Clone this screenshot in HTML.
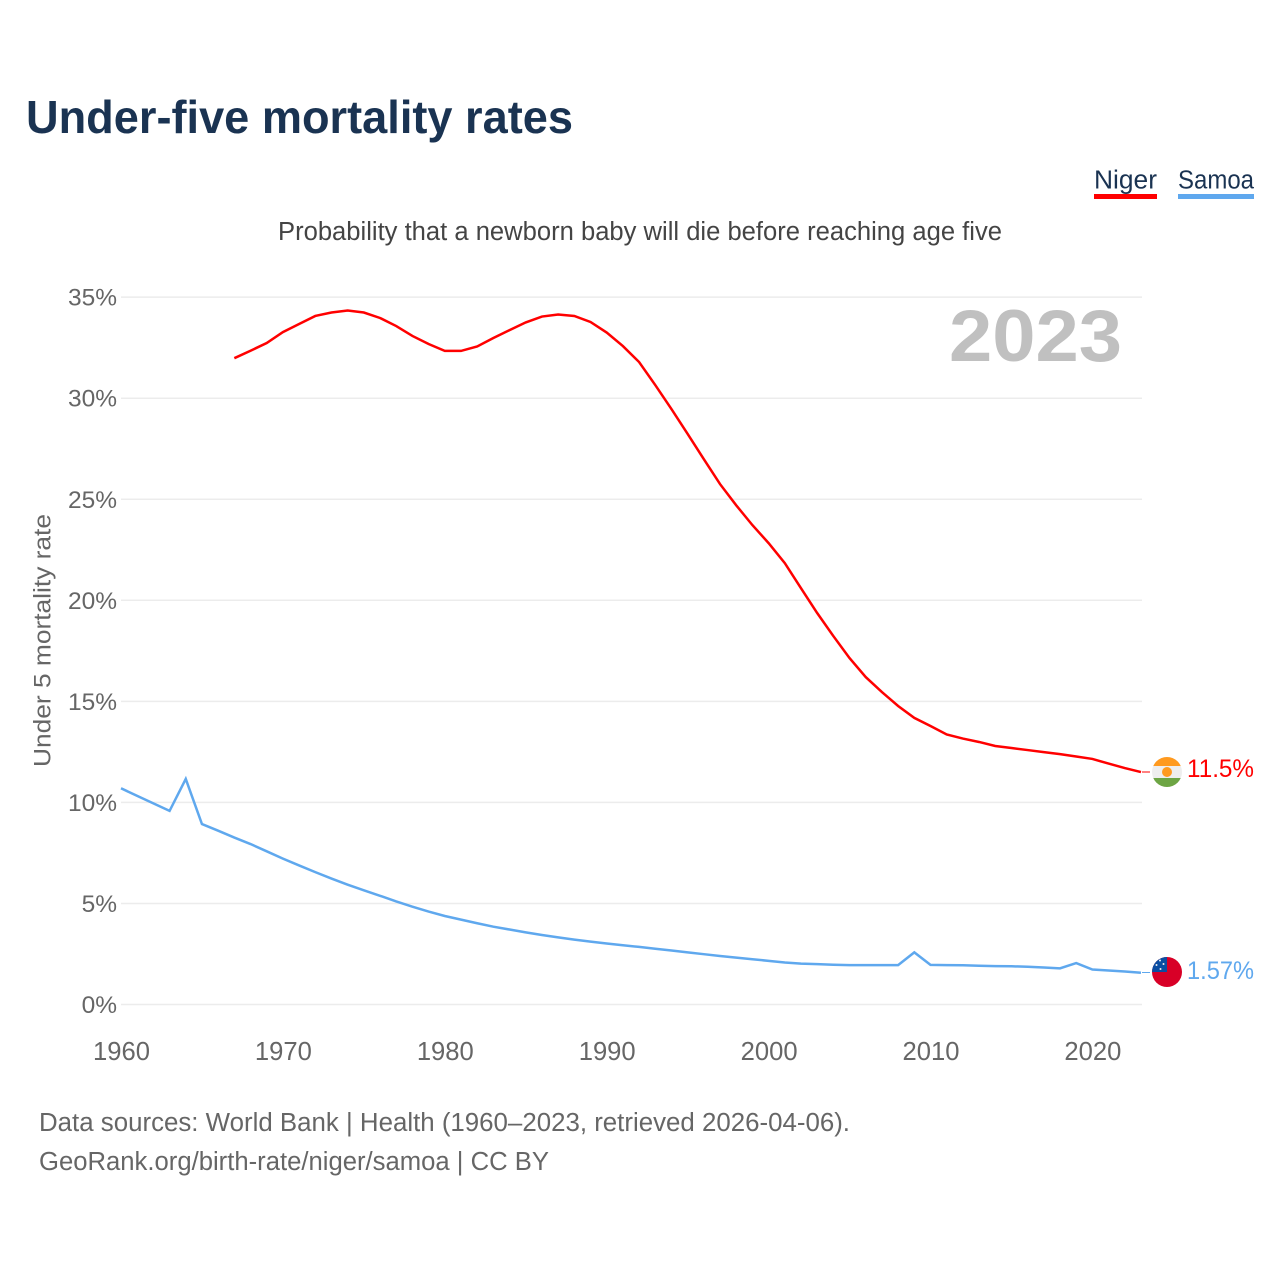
<!DOCTYPE html>
<html lang="en">
<head>
<meta charset="utf-8">
<title>Under-five mortality rates</title>
<style>
html,body{margin:0;padding:0;background:#fff}
svg{display:block}
text{font-family:"Liberation Sans",sans-serif}
</style>
</head>
<body>
<svg id="chart" width="1280" height="1280" viewBox="0 0 1280 1280" xmlns="http://www.w3.org/2000/svg">
<defs>
<clipPath id="flag-clip-niger"><circle cx="1167" cy="772" r="15"/></clipPath>
<clipPath id="flag-clip-samoa"><circle cx="1167" cy="972" r="15"/></clipPath>
</defs>
<rect width="1280" height="1280" fill="#fff"/>
<text x="26" y="133" font-size="46" font-weight="700" fill="#1a3352" textLength="547" lengthAdjust="spacingAndGlyphs">Under-five mortality rates</text>
<g>
<g>
<text x="1094" y="188.5" font-size="25.5" fill="#1a3352" textLength="63" lengthAdjust="spacingAndGlyphs">Niger</text>
<rect x="1094" y="194" width="63" height="5" fill="#ff0000"/>
</g>
<g>
<text x="1178" y="188.5" font-size="25.5" fill="#1a3352" textLength="76" lengthAdjust="spacingAndGlyphs">Samoa</text>
<rect x="1178" y="194" width="76" height="5" fill="#5fa8ee"/>
</g>
</g>
<text x="278" y="240" font-size="25.5" fill="#444" textLength="724" lengthAdjust="spacingAndGlyphs">Probability that a newborn baby will die before reaching age five</text>
<g id="grid"></g>
<g id="yticks"></g>
<g id="xticks"></g>
<text transform="translate(50.5,767) rotate(-90)" x="0" y="0" font-size="24.5" fill="#666" textLength="253" lengthAdjust="spacingAndGlyphs">Under 5 mortality rate</text>
<text x="1122" y="361" text-anchor="end" font-size="73" font-weight="700" fill="#c0c0c0" textLength="173" lengthAdjust="spacingAndGlyphs">2023</text>
<g id="series"></g>
<line x1="1142" y1="772" x2="1150" y2="772" stroke="#ff0000" stroke-width="1"/>
<line x1="1142" y1="972.5" x2="1150" y2="972.5" stroke="#5fa8ee" stroke-width="1"/>
<g clip-path="url(#flag-clip-niger)">
<rect x="1152" y="757" width="30" height="9" fill="#ff9a1f"/>
<rect x="1152" y="766" width="30" height="12" fill="#eeeeee"/>
<rect x="1152" y="778" width="30" height="9" fill="#6da544"/>
<circle cx="1167" cy="772" r="5" fill="#ff9a1f"/>
</g>
<g clip-path="url(#flag-clip-samoa)">
<rect x="1152" y="957" width="30" height="30" fill="#d80027"/>
<rect x="1152" y="957" width="15" height="15" fill="#0b4ea2"/>
<circle cx="1160" cy="960.5" r="1" fill="#eee"/>
<circle cx="1156.5" cy="965" r="1" fill="#eee"/>
<circle cx="1163.5" cy="964" r="1" fill="#eee"/>
<circle cx="1160.5" cy="969" r="1" fill="#eee"/>
</g>
<text id="label-niger" x="1187" y="777" font-size="25" fill="#ff0000" textLength="67" lengthAdjust="spacingAndGlyphs"></text>
<text id="label-samoa" x="1187" y="979" font-size="25" fill="#5fa8ee" textLength="67" lengthAdjust="spacingAndGlyphs"></text>
<text x="39" y="1131" font-size="25.5" fill="#666" textLength="811" lengthAdjust="spacingAndGlyphs">Data sources: World Bank | Health (1960–2023, retrieved 2026-04-06).</text>
<text x="39" y="1170" font-size="25.5" fill="#666" textLength="510" lengthAdjust="spacingAndGlyphs">GeoRank.org/birth-rate/niger/samoa | CC BY</text>
</svg>
<script>
const yTickValues = [0, 5, 10, 15, 20, 25, 30, 35];
const xTickYears = [1960, 1970, 1980, 1990, 2000, 2010, 2020];
const nigerStartYear = 1967;
const nigerValues = [31.98,32.35,32.73,33.27,33.67,34.07,34.24,34.34,34.24,33.97,33.57,33.08,32.68,32.34,32.34,32.56,32.98,33.37,33.75,34.04,34.14,34.07,33.77,33.25,32.58,31.79,30.65,29.46,28.23,26.98,25.75,24.7,23.72,22.83,21.84,20.6,19.37,18.23,17.14,16.2,15.46,14.77,14.18,13.78,13.36,13.16,12.99,12.79,12.69,12.59,12.49,12.39,12.27,12.15,11.92,11.7,11.5];
const samoaStartYear = 1960;
const samoaValues = [10.7,10.32,9.95,9.58,11.16,8.93,8.6,8.26,7.94,7.58,7.22,6.88,6.55,6.23,5.93,5.65,5.38,5.1,4.84,4.6,4.38,4.2,4.02,3.85,3.71,3.57,3.44,3.32,3.21,3.11,3.02,2.93,2.85,2.76,2.67,2.58,2.49,2.4,2.32,2.24,2.16,2.08,2.02,2.0,1.97,1.95,1.95,1.95,1.95,2.58,1.96,1.95,1.94,1.92,1.9,1.89,1.87,1.83,1.79,2.05,1.73,1.68,1.63,1.57];
const nigerEndLabel = "11.5%";
const samoaEndLabel = "1.57%";

const NS = "http://www.w3.org/2000/svg";
function xScale(year) { return 121 + (year - 1960) * 16.19; }
function yScale(value) { return 1004.5 - value * 20.21; }
function linePoints(startYear, values) {
  return values.map(function (v, i) {
    return xScale(startYear + i).toFixed(2) + "," + yScale(v).toFixed(2);
  }).join(" ");
}

const gridGroup = document.getElementById("grid");
const yGroup = document.getElementById("yticks");
const xGroup = document.getElementById("xticks");
const seriesGroup = document.getElementById("series");

yTickValues.forEach(function (v) {
  const gl = document.createElementNS(NS, "line");
  
  
  gl.setAttribute("x1", 121);
  gl.setAttribute("x2", 1142);
  gl.setAttribute("y1", yScale(v));
  gl.setAttribute("y2", yScale(v));
  gl.setAttribute("stroke", "#ececec");
  gl.setAttribute("stroke-width", "1.5");
  gridGroup.appendChild(gl);

  const t = document.createElementNS(NS, "text");
  
  
  t.setAttribute("x", 117);
  t.setAttribute("y", yScale(v) + 8.5);
  t.setAttribute("text-anchor", "end");
  t.setAttribute("font-size", "24.5");
  t.setAttribute("fill", "#666");
  t.textContent = v + "%";
  yGroup.appendChild(t);
});

xTickYears.forEach(function (yr) {
  const t = document.createElementNS(NS, "text");
  
  
  t.setAttribute("x", xScale(yr) + 0.5);
  t.setAttribute("y", 1060);
  t.setAttribute("text-anchor", "middle");
  t.setAttribute("font-size", "25.6");
  t.setAttribute("fill", "#666");
  t.textContent = yr;
  xGroup.appendChild(t);
});

const samoaLine = document.createElementNS(NS, "polyline");


samoaLine.setAttribute("points", linePoints(samoaStartYear, samoaValues));
samoaLine.setAttribute("fill", "none");
samoaLine.setAttribute("stroke", "#5fa8ee");
samoaLine.setAttribute("stroke-width", "2.5");
seriesGroup.appendChild(samoaLine);

const nigerLine = document.createElementNS(NS, "polyline");


nigerLine.setAttribute("points", linePoints(nigerStartYear, nigerValues));
nigerLine.setAttribute("fill", "none");
nigerLine.setAttribute("stroke", "#ff0000");
nigerLine.setAttribute("stroke-width", "2.5");
seriesGroup.appendChild(nigerLine);

document.getElementById("label-niger").textContent = nigerEndLabel;
document.getElementById("label-samoa").textContent = samoaEndLabel;
</script>
</body>
</html>
